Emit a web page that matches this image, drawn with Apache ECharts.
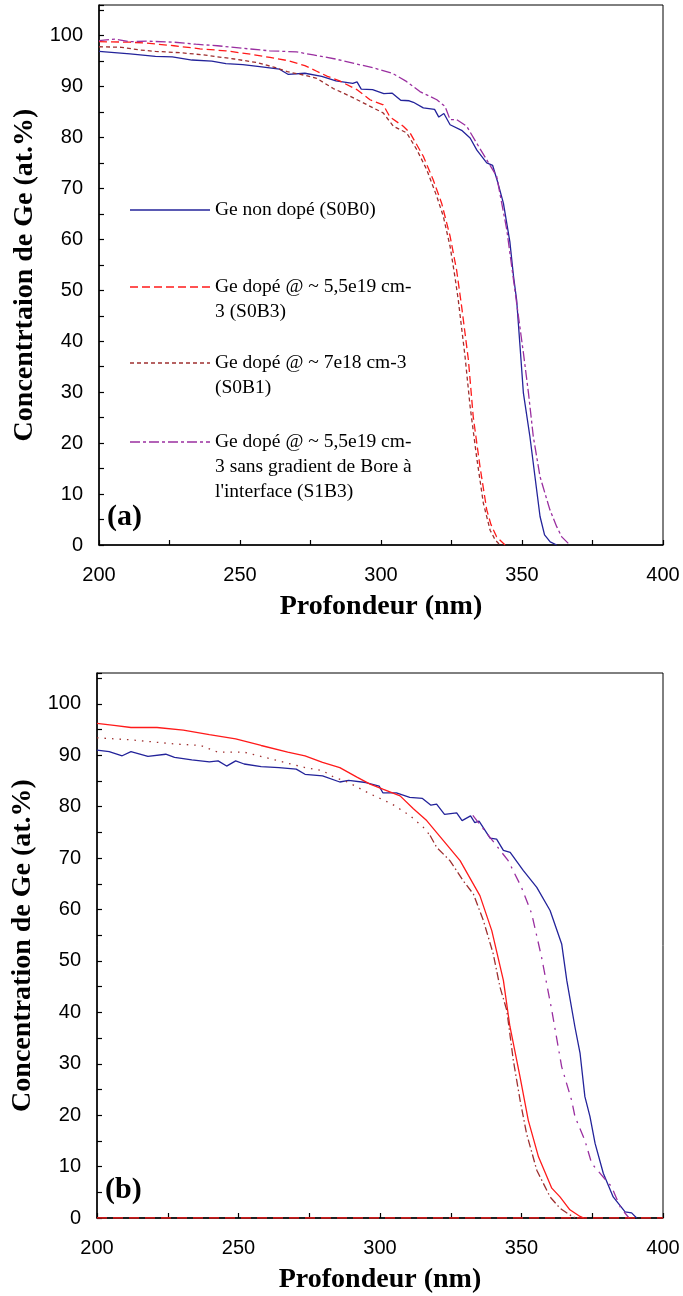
<!DOCTYPE html>
<html>
<head>
<meta charset="utf-8">
<script src="https://cdn.jsdelivr.net/npm/echarts@6/dist/echarts.min.js"></script>
<style>html,body{margin:0;padding:0;background:#fff;}#c{width:683px;height:1296px;}</style>
</head>
<body>
<div id="c"></div>
<script>
// ---------- DATA (top chart, a) ----------
const topS0B0 = [[200,96.9],[211,96.4],[220,95.9],[226,95.8],[233,95.2],[240,95.0],[245,94.5],[251,94.3],[257,93.9],[264,93.4],[267,92.4],[273,92.6],[279,92.0],[284,91.1],[290,90.6],[291.5,90.9],[293,89.5],[297,89.4],[301,88.6],[304,88.7],[307,87.3],[310,87.2],[311.5,86.9],[315,85.8],[319,85.5],[320.5,84.0],[322.3,84.7],[324.5,82.5],[328.6,81.4],[331.6,79.9],[334,77.5],[337.5,75.0],[339.6,74.5],[341.5,71.0],[343.4,67.1],[345.7,59.5],[347,52.7],[348.1,48.1],[349.3,39.0],[350.5,29.8],[352.8,21.3],[355.2,10.8],[356.4,5.6],[358,2.0],[360,0.6],[362.3,0]];
const topS0B3 = [[200,98.8],[211,98.7],[217,98.5],[226.6,98.0],[235.8,97.4],[245,97.0],[253,96.4],[260.6,95.7],[266.8,95.1],[273,94.1],[277.2,93.0],[281,92.0],[285.3,91.1],[291.4,89.4],[296.1,87.4],[300.8,86.4],[303.2,84.0],[307.9,82.2],[310.3,80.9],[315,76.3],[318.5,71.7],[321.5,67.1],[324.5,60.6],[326.8,54.0],[328.6,46.8],[331,36.3],[332.7,25.2],[335.1,15.4],[337.5,6.9],[339,4.0],[341,1.6],[344,0]];
const topS0B1 = [[200,97.8],[208,97.7],[214,97.2],[220,96.9],[229.7,96.6],[237,96.2],[248,95.4],[256,94.7],[262,93.8],[266.8,92.9],[273,92.2],[277.2,91.6],[283.1,89.6],[289,88.1],[293.7,86.8],[300.8,84.8],[304.4,82.2],[309.1,80.9],[312.7,77.6],[316.2,73.7],[319.8,68.4],[322.1,64.5],[324.5,58.6],[326.2,52.7],[327.4,48.1],[329.8,37.0],[331.6,27.2],[333.9,17.3],[336.3,8.2],[338.7,2.9],[340.5,1.0],[342.2,0]];
const topS1B3 = [[200,99.0],[205.7,99.3],[211,98.8],[217,98.9],[226.6,98.7],[234.3,98.3],[242,98.0],[251,97.5],[260.6,97.0],[270,96.8],[276,96.2],[283.8,95.4],[291.5,94.4],[297.7,93.6],[304,92.6],[309,91.0],[313.8,89.0],[319.8,87.4],[322.7,86.1],[324.5,83.5],[326.8,83.5],[330.4,82.2],[333.9,78.9],[337.5,75.6],[341,72.4],[344.6,61.9],[347,52.0],[350.5,37.7],[352.3,29.8],[354,21.3],[356.4,13.4],[359.9,6.9],[362.3,3.6],[364.1,1.6],[367,0]];

// ---------- DATA (bottom chart, b) ----------
const botBlue = [[200,91.0],[204.3,90.7],[208.9,89.9],[212,90.7],[218,89.8],[224.3,90.2],[227.4,89.6],[233.5,89.1],[239.7,88.7],[242.8,88.9],[245.8,87.9],[249,88.9],[252,88.3],[258,87.8],[264.3,87.6],[270.4,87.3],[273.5,86.3],[279.7,86.0],[285.8,84.8],[288.9,85.1],[295,84.7],[299.7,84.0],[301,82.7],[305.8,82.7],[310.5,81.8],[315,81.6],[318,80.3],[320,80.5],[322.8,78.5],[327.1,78.8],[329,77.3],[332,78.2],[333.5,76.9],[335,77.2],[338.9,73.9],[341.2,73.7],[343.6,71.5],[346,71.1],[350.6,67.6],[355.4,64.3],[360.1,59.8],[364.2,53.3],[366,46.2],[368.9,37.1],[370.7,32.0],[372.4,23.6],[374.2,19.7],[376,14.5],[378.9,8.7],[382.4,4.1],[386.6,1.2],[388.9,1.0],[390.7,0]];
const botRed = [[200,96.2],[206,95.8],[212,95.4],[221.2,95.4],[230.5,94.9],[239.7,94.0],[249,93.2],[258,91.9],[267.4,90.6],[273.5,89.9],[279.7,88.6],[285.8,87.6],[292,85.7],[296.5,84.4],[301,83.4],[307.1,82.1],[311.8,79.6],[316.5,77.3],[322.4,73.4],[328.3,69.5],[335.3,62.7],[339.5,55.9],[343.6,46.2],[345.9,37.3],[349.5,27.4],[352.4,19.0],[356,11.9],[360.7,5.8],[363.6,4.1],[367.1,1.6],[370.7,0.3],[372,0]];
const botBrown = [[200,93.4],[212,93.0],[227.4,92.2],[236.6,91.9],[242.8,90.6],[252,90.6],[264.3,88.9],[273.5,87.6],[279.7,87.0],[283.5,85.8],[288.9,84.7],[296.5,82.5],[304.3,80.5],[310.5,78.3],[315.3,76.0],[317.7,74.4],[320,72.1],[324.7,69.5],[329.4,65.6],[333,63.0],[336.5,57.9],[340,51.4],[342.4,44.9],[344.8,40.4],[347.1,30.7],[349.5,22.9],[351.8,16.4],[355.4,9.3],[360.1,4.1],[363.6,1.9],[367.1,0.6],[369,0]];
const botPurple = [[332.8,78.3],[345.3,69.5],[350,64.3],[353.6,59.2],[357.1,50.7],[360.7,40.4],[364.2,29.4],[367.7,22.9],[368.9,19.7],[372.4,15.1],[374.8,10.6],[381.8,6.1],[385,2.0],[388,0]];
const botZero = [[200,0],[400,0]];
const brownSplitX = 317.7;

// ---------- TEXT ----------
const yTitleTop = 'Concentrtaion de Ge (at.%)';
const yTitleBot = 'Concentration de Ge (at.%)';
const xTitle = 'Profondeur (nm)';
const panelLabels = ['(a)', '(b)'];
const legendLabels = [
  ['Ge non dopé (S0B0)'],
  ['Ge dopé @ ~ 5,5e19 cm-', '3 (S0B3)'],
  ['Ge dopé @ ~ 7e18 cm-3', '(S0B1)'],
  ['Ge dopé @ ~ 5,5e19 cm-', '3 sans gradient de Bore à', "l'interface (S1B3)"]
];

// ---------- STYLE ----------
const C_BLUE = '#23239a', C_RED = '#ff1a1a', C_BROWN = '#9e2f2f', C_PURPLE = '#9a2fa0';
const DASH_RED = [8, 4], DASH_BROWN = [4, 3], DASH_PURPLE = [10, 3, 3, 3];
const serif = 'Liberation Serif', sans = 'Liberation Sans';

const chart = echarts.init(document.getElementById('c'), null, {renderer: 'canvas'});

function xAxisCfg(gi) {
  return {
    gridIndex: gi, type: 'value', min: 200, max: 400, interval: 25,
    name: xTitle, nameLocation: 'middle', nameGap: 48,
    nameTextStyle: {fontFamily: serif, fontWeight: 'bold', fontSize: 28, color: '#000'},
    axisLine: {lineStyle: {color: '#000', width: 1.5}},
    axisTick: {inside: true, length: 5, lineStyle: {color: '#000', width: 1.2}},
    axisLabel: {margin: 20, fontFamily: sans, fontSize: 20, color: '#000',
      formatter: v => (v % 50 === 0 ? String(v) : '')},
    splitLine: {show: false}
  };
}
function yAxisCfg(gi, title) {
  return {
    gridIndex: gi, type: 'value', min: 0, max: 106, interval: 5,
    name: title, nameLocation: 'middle', nameGap: 60, nameRotate: 90,
    nameTextStyle: {fontFamily: serif, fontWeight: 'bold', fontSize: 28, color: '#000'},
    axisLine: {lineStyle: {color: '#000', width: 1.5}},
    axisTick: {inside: true, length: 5, lineStyle: {color: '#000', width: 1.2}},
    axisLabel: {margin: 16, fontFamily: sans, fontSize: 20, color: '#000',
      formatter: v => (v % 10 === 0 ? String(v) : '')},
    splitLine: {show: false}
  };
}
function line(xi, data, color, dash, z) {
  return {type: 'line', xAxisIndex: xi, yAxisIndex: xi, data: data, showSymbol: false, symbol: 'none',
    animation: false, z: z || 3, lineStyle: {color: color, width: 1.3, type: dash || 'solid'}};
}

const brownUpper = botBrown.filter(p => p[0] <= brownSplitX);
const brownLower = botBrown.filter(p => p[0] >= brownSplitX);

// legend graphics
const legendRowY = [210, 287, 363, 442];
const legendStyles = [[C_BLUE, null], [C_RED, DASH_RED], [C_BROWN, DASH_BROWN], [C_PURPLE, DASH_PURPLE]];
const graphics = [];
legendLabels.forEach((lines, i) => {
  const y = legendRowY[i];
  graphics.push({type: 'line', shape: {x1: 130, y1: y, x2: 210, y2: y},
    style: {stroke: legendStyles[i][0], lineWidth: 1.3, lineDash: legendStyles[i][1] || null}});
  lines.forEach((t, j) => {
    graphics.push({type: 'text', x: 215, y: y + j * 25,
      style: {text: t, font: '19.5px "Liberation Serif"', fill: '#000', textVerticalAlign: 'middle', textAlign: 'left'}});
  });
});
graphics.push({type: 'text', x: 107, y: 517, style: {text: panelLabels[0], font: 'bold 30px "Liberation Serif"', fill: '#000', textVerticalAlign: 'middle'}});
graphics.push({type: 'text', x: 105, y: 1190, style: {text: panelLabels[1], font: 'bold 30px "Liberation Serif"', fill: '#000', textVerticalAlign: 'middle'}});

chart.setOption({
  animation: false,
  backgroundColor: '#fff',
  grid: [
    {left: 99, right: 20, top: 5, height: 540, show: true, borderColor: '#000', borderWidth: 1, backgroundColor: 'transparent'},
    {left: 97, right: 20, top: 673, height: 545, show: true, borderColor: '#000', borderWidth: 1, backgroundColor: 'transparent'}
  ],
  xAxis: [xAxisCfg(0), xAxisCfg(1)],
  yAxis: [yAxisCfg(0, yTitleTop), yAxisCfg(1, yTitleBot)],
  series: [
    line(0, topS0B0, C_BLUE),
    line(0, topS0B3, C_RED, DASH_RED),
    line(0, topS0B1, C_BROWN, DASH_BROWN),
    line(0, topS1B3, C_PURPLE, DASH_PURPLE),
    line(1, botZero, C_RED, [10, 6], 4),
    line(1, botBlue, C_BLUE),
    line(1, botRed, C_RED),
    line(1, brownUpper, C_BROWN, [1.5, 6]),
    line(1, brownLower, C_BROWN, [8, 3, 1.5, 3]),
    line(1, botPurple, C_PURPLE, [10, 6, 2, 6])
  ],
  graphic: graphics
});
</script>
</body>
</html>
